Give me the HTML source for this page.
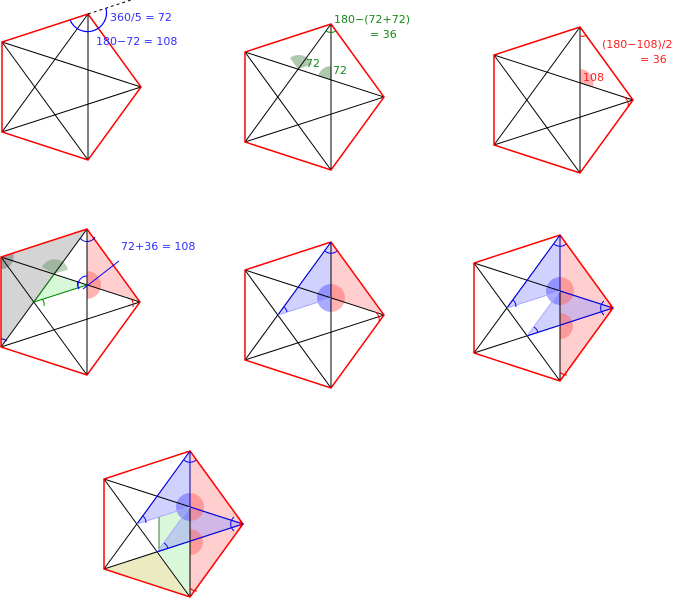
<!DOCTYPE html>
<html><head><meta charset="utf-8"><style>
html,body{margin:0;padding:0;background:#fff;width:677px;height:599px;overflow:hidden}
svg{display:block}
text{font-family:"DejaVu Sans","Liberation Sans",sans-serif;font-size:11px}
</style></head><body>
<svg width="677" height="599" viewBox="0 0 677 599" xmlns="http://www.w3.org/2000/svg">
<defs>
<g id="pent">
  <g stroke="#000" stroke-width="1" fill="none">
    <line x1="86" y1="0" x2="86" y2="146"/>
    <line x1="86" y1="0" x2="0" y2="118"/>
    <line x1="139" y1="73" x2="0" y2="118"/>
    <line x1="139" y1="73" x2="0" y2="28"/>
    <line x1="86" y1="146" x2="0" y2="28"/>
  </g>
  <polygon points="86,0 139,73 86,146 0,118 0,28" fill="none" stroke="#f00" stroke-width="1.5"/>
</g>
<g id="blueP1">
  <path d="M86,42 A14,14 0 0 0 86,70 Z" fill="#55f" opacity="0.5"/>
  <path d="M86,42 A14,14 0 0 1 86,70 Z" fill="#f66" opacity="0.5"/>
</g>
</defs>

<!-- Diagram 1 -->
<g transform="translate(2,14)">
  <use href="#pent"/>
  <line x1="86" y1="0" x2="132" y2="-15" stroke="#000" stroke-dasharray="3,3"/>
  <path d="M68,5.9 A19,19 0 0 0 104,-5.9" fill="none" stroke="#00f" stroke-width="1.2"/>
</g>
<text x="110" y="21" fill="#33f">360/5 = 72</text>
<text x="96" y="45" fill="#33f">180−72 = 108</text>

<!-- Diagram 2 -->
<g transform="translate(245,24)">
  <path d="M53,45 L67,40.5 A14,14 0 0 0 45,34 Z" fill="#3a7a3a" opacity="0.4"/>
  <path d="M86,56 L86,42 A14,14 0 0 0 73,52 Z" fill="#3a7a3a" opacity="0.4"/>
  <use href="#pent"/>
  <path d="M81,7 A9,9 0 0 0 91,7" fill="none" stroke="#080" stroke-width="1"/>
</g>
<text x="334" y="23" fill="#1a8a1a">180−(72+72)</text>
<text x="370" y="38" fill="#1a8a1a">= 36</text>
<text x="306" y="67" fill="#1a8a1a">72</text>
<text x="333" y="74" fill="#1a8a1a">72</text>

<!-- Diagram 3 -->
<g transform="translate(494,27)">
  <path d="M86,56 L86,42 A14,14 0 0 1 99,60 Z" fill="#f66" opacity="0.5"/>
  <use href="#pent"/>
  <path d="M86,9 A9,9 0 0 0 93,8" fill="none" stroke="#f00"/>
  <path d="M130,70 A9,9 0 0 1 134,80" fill="none" stroke="#f00"/>
</g>
<text x="602" y="48" fill="#f22">(180−108)/2</text>
<text x="640" y="63" fill="#f22">= 36</text>
<text x="583" y="81" fill="#f22">108</text>

<!-- Diagram 4 -->
<g transform="translate(1,229)">
  <polygon points="86,0 0,28 0,118" fill="#aaa" opacity="0.5"/>
  <polygon points="86,0 139,73 86,56" fill="#f88" opacity="0.4"/>
  <polygon points="33,73 53,45 86,56" fill="#9e9" opacity="0.4"/>
  <path d="M86,42 A14,14 0 0 1 86,70 Z" fill="#f66" opacity="0.5"/>
  <path d="M53,45 L67,40.5 A14,14 0 0 0 41,38 Z" fill="#3a7a3a" opacity="0.35"/>
  <path d="M0,28 L0,40 A12,12 0 0 0 12,24 Z" fill="#555" opacity="0.4"/>
  <use href="#pent"/>
  <line x1="33" y1="73" x2="86" y2="56" stroke="#080"/>
  <line x1="33" y1="73" x2="53" y2="45" stroke="#080"/>
  <path d="M79,9 A9,9 0 0 0 94,8" fill="none" stroke="#00a"/>
  <path d="M130,70 A9,9 0 0 1 132,78" fill="none" stroke="#f00"/>
  <path d="M77,52 A9,9 0 0 0 78,60" fill="none" stroke="#00f"/>
  <path d="M78,60 A9,9 0 0 1 86,47" fill="none" stroke="#00f"/>
  <path d="M41,70 A8,8 0 0 1 43,77" fill="none" stroke="#080"/>
  <path d="M0,110 A8,8 0 0 1 6,112" fill="none" stroke="#00a"/>
  <line x1="82" y1="60" x2="118" y2="32" stroke="#00f"/>
</g>
<text x="121" y="250" fill="#33f">72+36 = 108</text>

<!-- Diagram 5 -->
<g transform="translate(245,242)">
  <polygon points="86,0 139,73 86,56" fill="#f88" opacity="0.4"/>
  <polygon points="86,0 33,73 86,56" fill="#99f" opacity="0.45"/>
  <use href="#blueP1"/>
  <use href="#pent"/>
  <line x1="86" y1="0" x2="33" y2="73" stroke="#00f"/>
  <line x1="33" y1="73" x2="86" y2="56" stroke="#aaf"/>
  <path d="M80,9 A9,9 0 0 0 92,9" fill="none" stroke="#00f"/>
  <path d="M39,65 A9,9 0 0 1 42,70" fill="none" stroke="#00f"/>
  <path d="M130,70 A9,9 0 0 1 134,80" fill="none" stroke="#f00"/>
</g>

<!-- Diagram 6 -->
<g transform="translate(474,235)">
  <polygon points="86,0 139,73 86,146" fill="#f88" opacity="0.4"/>
  <polygon points="86,0 33,73 86,56" fill="#99f" opacity="0.45"/>
  <polygon points="139,73 86,56 53,101" fill="#99f" opacity="0.45"/>
  <path d="M86,78 A13,13 0 0 1 86,104 Z" fill="#f66" opacity="0.5"/>
  <use href="#blueP1"/>
  <use href="#pent"/>
  <line x1="86" y1="0" x2="33" y2="73" stroke="#00f"/>
  <line x1="33" y1="73" x2="86" y2="56" stroke="#aaf"/>
  <line x1="86" y1="56" x2="53" y2="101" stroke="#aaf"/>
  <polyline points="86,56 139,73 53,101" fill="none" stroke="#00f"/>
  <line x1="86" y1="0" x2="86" y2="56" stroke="#00a"/>
  <path d="M80,9 A9,9 0 0 0 92,9" fill="none" stroke="#00f"/>
  <path d="M39,65 A9,9 0 0 1 42,72" fill="none" stroke="#00f"/>
  <path d="M60,92 A9,9 0 0 1 64,98" fill="none" stroke="#00f"/>
  <path d="M130,66 A9,9 0 0 0 130,80" fill="none" stroke="#00f"/>
  <path d="M132,64 A11,11 0 0 1 132,82" fill="none" stroke="#f00"/>
  <path d="M86,137 A9,9 0 0 0 93,140" fill="none" stroke="#f00"/>
</g>

<!-- Diagram 7 -->
<g transform="translate(104,451)">
  <polygon points="86,0 139,73 86,146" fill="#f88" opacity="0.4"/>
  <polygon points="0,118 53,101 86,146" fill="#dd9" opacity="0.6"/>
  <polygon points="55,66 86,56 86,146 55,101" fill="#aea" opacity="0.45"/>
  <polygon points="86,0 33,73 86,56" fill="#99f" opacity="0.45"/>
  <polygon points="139,73 86,56 53,101" fill="#99f" opacity="0.45"/>
  <path d="M86,78 A13,13 0 0 1 86,104 Z" fill="#f66" opacity="0.5"/>
  <use href="#blueP1"/>
  <use href="#pent"/>
  <line x1="55" y1="66" x2="55" y2="101" stroke="#3a7a3a"/>
  <line x1="86" y1="0" x2="33" y2="73" stroke="#00f"/>
  <line x1="33" y1="73" x2="86" y2="56" stroke="#aaf"/>
  <line x1="86" y1="56" x2="53" y2="101" stroke="#aaf"/>
  <polyline points="86,56 139,73 53,101" fill="none" stroke="#00f"/>
  <line x1="86" y1="0" x2="86" y2="56" stroke="#00a"/>
  <path d="M80,9 A9,9 0 0 0 92,9" fill="none" stroke="#00f"/>
  <path d="M39,65 A9,9 0 0 1 42,72" fill="none" stroke="#00f"/>
  <path d="M60,92 A9,9 0 0 1 64,98" fill="none" stroke="#00f"/>
  <path d="M130,66 A9,9 0 0 0 130,80" fill="none" stroke="#00f"/>
  <path d="M132,64 A11,11 0 0 1 132,82" fill="none" stroke="#f00"/>
  <path d="M86,137 A9,9 0 0 0 93,140" fill="none" stroke="#f00"/>
</g>
</svg>
</body></html>
